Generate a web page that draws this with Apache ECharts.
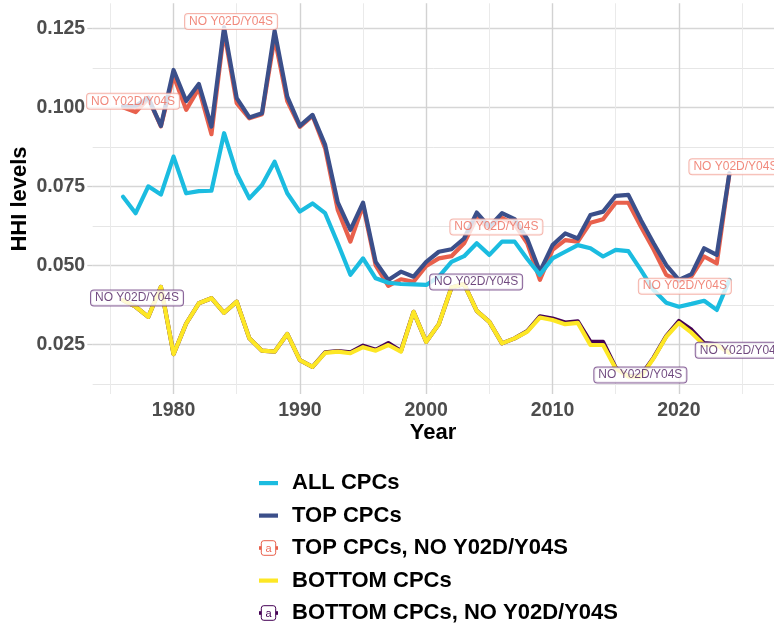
<!DOCTYPE html>
<html>
<head>
<meta charset="utf-8">
<script src="https://cdn.jsdelivr.net/npm/echarts@6/dist/echarts.min.js"></script>
<style>
html,body{margin:0;padding:0;background:#fff;}
#chart{width:774px;height:628px;}
</style>
</head>
<body>
<div id="chart"></div>
<script>
var years = [1976,1977,1978,1979,1980,1981,1982,1983,1984,1985,1986,1987,1988,1989,1990,1991,1992,1993,1994,1995,1996,1997,1998,1999,2000,2001,2002,2003,2004,2005,2006,2007,2008,2009,2010,2011,2012,2013,2014,2015,2016,2017,2018,2019,2020,2021,2022,2023,2024];

var allCPCs = [0.0717,0.0665,0.0750,0.0724,0.0844,0.0728,0.0735,0.0736,0.0918,0.0791,0.0712,0.0754,0.0828,0.0728,0.0670,0.0696,0.0665,0.0570,0.0470,0.0522,0.0459,0.0445,0.0441,0.0440,0.0438,0.0464,0.0511,0.0529,0.0570,0.0533,0.0575,0.0575,0.0520,0.0470,0.0522,0.0543,0.0564,0.0554,0.0528,0.0549,0.0545,0.0485,0.0422,0.0382,0.0369,0.0378,0.0388,0.0359,0.0454];

var topCPCs = [0.1004,0.1004,0.1030,0.0941,0.1118,0.1020,0.1074,0.0939,0.1253,0.1029,0.0968,0.0981,0.1242,0.1034,0.0941,0.0976,0.0881,0.0699,0.0612,0.0698,0.0511,0.0454,0.0480,0.0464,0.0511,0.0543,0.0551,0.0585,0.0667,0.0622,0.0665,0.0646,0.0583,0.0480,0.0564,0.0601,0.0585,0.0659,0.0670,0.0720,0.0723,0.0643,0.0570,0.0501,0.0454,0.0472,0.0554,0.0533,0.0791];

var topNoY = [0.1000,0.0985,0.1028,0.0940,0.1100,0.0992,0.1060,0.0915,0.1240,0.1013,0.0965,0.0978,0.1220,0.1020,0.0938,0.0973,0.0870,0.0675,0.0575,0.0690,0.0500,0.0435,0.0456,0.0448,0.0498,0.0522,0.0529,0.0570,0.0650,0.0615,0.0650,0.0630,0.0570,0.0454,0.0549,0.0580,0.0575,0.0635,0.0646,0.0698,0.0698,0.0622,0.0550,0.0470,0.0450,0.0465,0.0528,0.0506,0.0790];

var bottomCPCs = [0.0390,0.0369,0.0337,0.0432,0.0219,0.0316,0.0380,0.0396,0.0350,0.0385,0.0269,0.0230,0.0227,0.0283,0.0200,0.0179,0.0223,0.0227,0.0222,0.0241,0.0230,0.0248,0.0227,0.0353,0.0258,0.0314,0.0430,0.0441,0.0356,0.0321,0.0253,0.0269,0.0290,0.0335,0.0327,0.0314,0.0318,0.0248,0.0248,0.0174,0.0148,0.0148,0.0206,0.0274,0.0318,0.0287,0.0248,0.0248,0.0223];

var bottomNoY = [0.0390,0.0369,0.0337,0.0432,0.0219,0.0316,0.0380,0.0396,0.0350,0.0385,0.0269,0.0230,0.0227,0.0283,0.0200,0.0179,0.0225,0.0229,0.0225,0.0246,0.0233,0.0254,0.0229,0.0353,0.0258,0.0314,0.0430,0.0441,0.0356,0.0321,0.0253,0.0269,0.0292,0.0339,0.0332,0.0319,0.0323,0.0258,0.0258,0.0176,0.0150,0.0152,0.0208,0.0276,0.0324,0.0296,0.0254,0.0250,0.0224];

var seriesNames = ['ALL CPCs','TOP CPCs','TOP CPCs, NO Y02D/Y04S','BOTTOM CPCs','BOTTOM CPCs, NO Y02D/Y04S'];
var labelText = 'NO Y02D/Y04S';
var topLabelYears = [1976,1984,2005,2020,2024];
var bottomLabelYears = [1976,2003,2016,2023];

var xMajorTicks = [1980,1990,2000,2010,2020];
var xMinorTicks = [1975,1985,1995,2005,2015,2025];
var yMajorTicks = [0.025,0.050,0.075,0.100,0.125];
var yMinorTicks = [0.0125,0.0375,0.0625,0.0875,0.1125];

// ---- styling ----
var FONT = "'Liberation Sans', Arial, sans-serif";
var C_ALL = '#1BBCE0', C_TOP = '#3B4F8A', C_TOPNO = '#E8604C', C_BOT = '#FDE725', C_BOTNO = '#440154';
var topLabelOffsets = [[10,-6],[7,-10],[7,-2],[6,5],[6,-7]];
var bottomLabelOffsets = [[14,-2],[12,-2],[12,-1],[25,6]];

function pairs(vals){ return years.map(function(y,i){ return [y, vals[i]]; }); }

function lineIcon(color){
  var svg = '<svg xmlns="http://www.w3.org/2000/svg" width="26" height="16" viewBox="0 0 26 16"><rect x="0" y="6" width="19" height="4.2" fill="'+color+'"/></svg>';
  return 'image://data:image/svg+xml;charset=utf-8,' + encodeURIComponent(svg);
}
function labelIcon(color, textColor){
  var svg = '<svg xmlns="http://www.w3.org/2000/svg" width="26" height="16" viewBox="0 0 26 16">' +
    '<rect x="0" y="6.2" width="19" height="3.6" fill="'+color+'"/>' +
    '<rect x="2.3" y="0.7" width="14.4" height="14.6" rx="2.5" ry="2.5" fill="#fff" stroke="'+color+'" stroke-width="1"/>' +
    '<text x="9.5" y="12" font-family="Liberation Sans, Arial, sans-serif" font-size="11" text-anchor="middle" fill="'+textColor+'">a</text></svg>';
  return 'image://data:image/svg+xml;charset=utf-8,' + encodeURIComponent(svg);
}

function labelData(labelYears, vals, offsets){
  return labelYears.map(function(yr, k){
    var i = years.indexOf(yr);
    return { value: [yr, vals[i]], label: { offset: offsets[k] } };
  });
}

function labelSeries(name, data, textColor, borderColor){
  return {
    name: name, type: 'scatter', symbolSize: 1, z: 10,
    itemStyle: { color: 'rgba(0,0,0,0)' },
    data: data, silent: true,
    label: {
      show: true, position: 'inside', formatter: labelText,
      fontFamily: FONT, fontSize: 12, color: textColor, lineHeight: 13,
      backgroundColor: '#fff', borderColor: borderColor, borderWidth: 1,
      borderRadius: 3, padding: [1, 4, 1, 4]
    }
  };
}

function lineSeries(name, vals, color, z){
  return { name: name, type: 'line', data: pairs(vals), showSymbol: false, symbol: 'none',
    lineStyle: { color: color, width: 4.2, join: 'round', cap: 'round' }, itemStyle: { color: color }, z: z, silent: true };
}

var chart = echarts.init(document.getElementById('chart'), null, { renderer: 'canvas' });
var xMin = 1973.6, xMax = 2027.53, yMin = 0.0093, yMax = 0.1329;
var option = {
  animation: false,
  backgroundColor: '#fff',
  grid: { left: 92.7, right: 0, top: 3.3, bottom: 234, containLabel: false },
  xAxis: [
    { type: 'value', min: xMin, max: xMax, axisLine: { show: false },
      axisTick: { show: false, customValues: xMajorTicks },
      axisLabel: { customValues: xMajorTicks, margin: 7, color: '#4D4D4D', fontFamily: FONT, fontWeight: 'bold', fontSize: 19.5, formatter: function(v){ return String(v); } },
      splitLine: { show: true, lineStyle: { color: '#D2D2D2', width: 1.4 } } },
    { type: 'value', min: xMin, max: xMax, position: 'bottom', axisLine: { show: false },
      axisTick: { show: false, customValues: xMinorTicks }, axisLabel: { show: false, customValues: xMinorTicks },
      splitLine: { show: true, lineStyle: { color: '#EAEAEA', width: 1 } } }
  ],
  yAxis: [
    { type: 'value', min: yMin, max: yMax, axisLine: { show: false },
      axisTick: { show: true, length: 5.4, customValues: yMajorTicks, lineStyle: { color: '#CFCFCF', width: 1.3 } },
      axisLabel: { customValues: yMajorTicks, margin: 7.5, color: '#4D4D4D', fontFamily: FONT, fontWeight: 'bold', fontSize: 19.5, formatter: function(v){ return v.toFixed(3); } },
      splitLine: { show: true, lineStyle: { color: '#D6D6D6', width: 1.4 } } },
    { type: 'value', min: yMin, max: yMax, position: 'left', axisLine: { show: false },
      axisTick: { show: false, customValues: yMinorTicks }, axisLabel: { show: false, customValues: yMinorTicks },
      splitLine: { show: true, lineStyle: { color: '#E6E6E6', width: 1 } } }
  ],
  legend: {
    orient: 'vertical', left: 254, top: 467, height: 300, itemWidth: 26, itemHeight: 16, itemGap: 10.5,
    selectedMode: false,
    textStyle: { fontFamily: FONT, fontWeight: 'bold', fontSize: 22, color: '#000', lineHeight: 22, padding: [0,0,0,2] },
    data: [
      { name: seriesNames[0], icon: lineIcon(C_ALL) },
      { name: seriesNames[1], icon: lineIcon(C_TOP) },
      { name: seriesNames[2], icon: labelIcon(C_TOPNO, '#EE6B5B') },
      { name: seriesNames[3], icon: lineIcon(C_BOT) },
      { name: seriesNames[4], icon: labelIcon(C_BOTNO, C_BOTNO) }
    ]
  },
  graphic: [
    { type: 'text', x: 433, y: 433, style: { text: 'Year', font: 'bold 22px ' + FONT, fill: '#000', align: 'center', verticalAlign: 'middle' } },
    { type: 'text', x: 20, y: 199, rotation: Math.PI / 2, style: { text: 'HHI levels', font: 'bold 22px ' + FONT, fill: '#000', align: 'center', verticalAlign: 'middle' } }
  ],
  series: [
    lineSeries(seriesNames[2], topNoY, C_TOPNO, 2),
    lineSeries(seriesNames[4], bottomNoY, C_BOTNO, 2),
    lineSeries(seriesNames[1], topCPCs, C_TOP, 3),
    lineSeries(seriesNames[0], allCPCs, C_ALL, 4),
    lineSeries(seriesNames[3], bottomCPCs, C_BOT, 5),
    labelSeries('lab_top', labelData(topLabelYears, topNoY, topLabelOffsets), '#EE6B5B', '#F3A196'),
    labelSeries('lab_bot', labelData(bottomLabelYears, bottomNoY, bottomLabelOffsets), '#4B1A5E', '#6B3C80')
  ]
};
chart.setOption(option);
</script>
</body>
</html>
